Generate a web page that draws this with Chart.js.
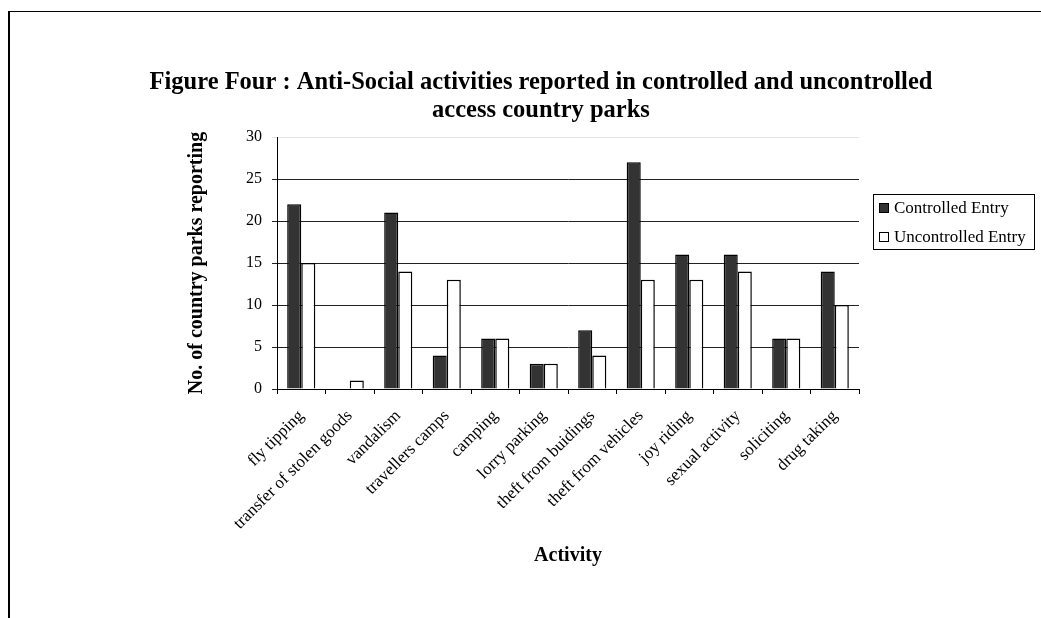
<!DOCTYPE html>
<html>
<head>
<meta charset="utf-8">
<script src="https://cdn.jsdelivr.net/npm/chart.js@4.4.1/dist/chart.umd.min.js"></script>
<style>
  html, body { margin: 0; padding: 0; background: #fff; }
  #wrap { position: relative; width: 1041px; height: 618px; overflow: hidden; }
  #frame { position: absolute; left: 8px; top: 11px; width: 1100px; height: 700px;
           border-top: 1px solid #000; border-left: 2px solid #000; }
  #chart { position: absolute; left: 0; top: 0; }
</style>
</head>
<body>
<div id="wrap">
  <div id="frame"></div>
  <canvas id="chart" width="1041" height="618"></canvas>
</div>
<script>
// --- datos del gráfico ---
const activities = [
    'fly tipping', 'transfer of stolen goods', 'vandalism', 'travellers camps',
    'camping', 'lorry parking', 'theft from buidings', 'theft from vehicles',
    'joy riding', 'sexual activity', 'soliciting', 'drug taking'
];
const controlledEntry = [22, 0, 21, 4, 6, 3, 7, 27, 16, 16, 6, 14];
const uncontrolledEntry = [15, 1, 14, 13, 6, 3, 4, 13, 13, 14, 6, 10];
const yTicks = [0, 5, 10, 15, 20, 25, 30];

const serif = "'Liberation Serif', 'Times New Roman', serif";
Chart.defaults.font.family = serif;
Chart.defaults.color = '#000';

// leyenda dibujada a mano en el hueco de la derecha
const boxLegend = {
    id: 'boxLegend',
    afterDraw(chart) {
        const ctx = chart.ctx;
        ctx.save();
        ctx.strokeStyle = '#000';
        ctx.lineWidth = 1;
        ctx.strokeRect(873.5, 194.5, 161, 55);
        ctx.font = '17px ' + serif;
        ctx.textBaseline = 'middle';
        const rows = [208, 237];
        chart.data.datasets.forEach((ds, i) => {
            const y = rows[i];
            ctx.fillStyle = ds.backgroundColor;
            ctx.fillRect(879.5, y - 4.5, 9, 9);
            ctx.strokeRect(879.5, y - 4.5, 9, 9);
            ctx.fillStyle = '#000';
            ctx.fillText(ds.label, 894, y + 1);
        });
        ctx.restore();
    }
};

new Chart(document.getElementById('chart'), {
    type: 'bar',
    data: {
        labels: activities,
        datasets: [{
            label: 'Controlled Entry',
            data: controlledEntry,
            backgroundColor: '#333333',
            borderColor: '#000',
            borderWidth: 1.5,
            categoryPercentage: 0.58,
            barPercentage: 1
        }, {
            label: 'Uncontrolled Entry',
            data: uncontrolledEntry,
            backgroundColor: '#ffffff',
            borderColor: '#000',
            borderWidth: 1.5,
            categoryPercentage: 0.58,
            barPercentage: 1
        }]
    },
    options: {
        responsive: false,
        animation: false,
        layout: { padding: { left: 41, right: 0, top: 0, bottom: 0 } },
        scales: {
            x: {
                grid: { offset: true, drawOnChartArea: false, drawTicks: true, tickLength: 5, color: '#000' },
                border: { color: '#000', width: 1 },
                ticks: { minRotation: 45, maxRotation: 45, padding: 12, font: { size: 17 }, color: '#000' },
                title: { display: true, text: 'Activity', font: { size: 20, weight: 'bold' }, color: '#000', padding: { top: 0, bottom: 50 } },
                afterFit(scale) { scale.height = 618 - 389; }
            },
            y: {
                min: 0,
                max: 30,
                afterBuildTicks(scale) { scale.ticks = yTicks.map(v => ({ value: v })); },
                grid: {
                    color: ctx => (ctx.tick && ctx.tick.value === 30) ? '#e4e4e4' : '#222',
                    tickLength: 5,
                    drawTicks: true
                },
                border: { color: '#000', width: 1 },
                ticks: { padding: 10, font: { size: 16 }, color: '#000' },
                title: { display: true, text: 'No. of country parks reporting', font: { size: 20, weight: 'bold' }, color: '#000', padding: { top: 144, bottom: 0 } },
                afterFit(scale) { scale.width = 277 - 41; }
            },
            // eje vacío: sólo reserva el hueco de la leyenda
            legendSpace: {
                type: 'linear',
                position: 'right',
                min: 0,
                max: 1,
                grid: { display: false },
                border: { display: false },
                ticks: { display: false },
                afterFit(scale) { scale.width = 1041 - 859; }
            }
        },
        plugins: {
            legend: { display: false },
            tooltip: { enabled: false },
            title: {
                display: true,
                text: ['Figure Four : Anti-Social activities reported in controlled and uncontrolled', 'access country parks'],
                font: { size: 24.5, weight: 'bold', lineHeight: '28px' },
                color: '#000',
                padding: { top: 69, bottom: 12 }
            }
        }
    },
    plugins: [boxLegend]
});
</script>
</body>
</html>
